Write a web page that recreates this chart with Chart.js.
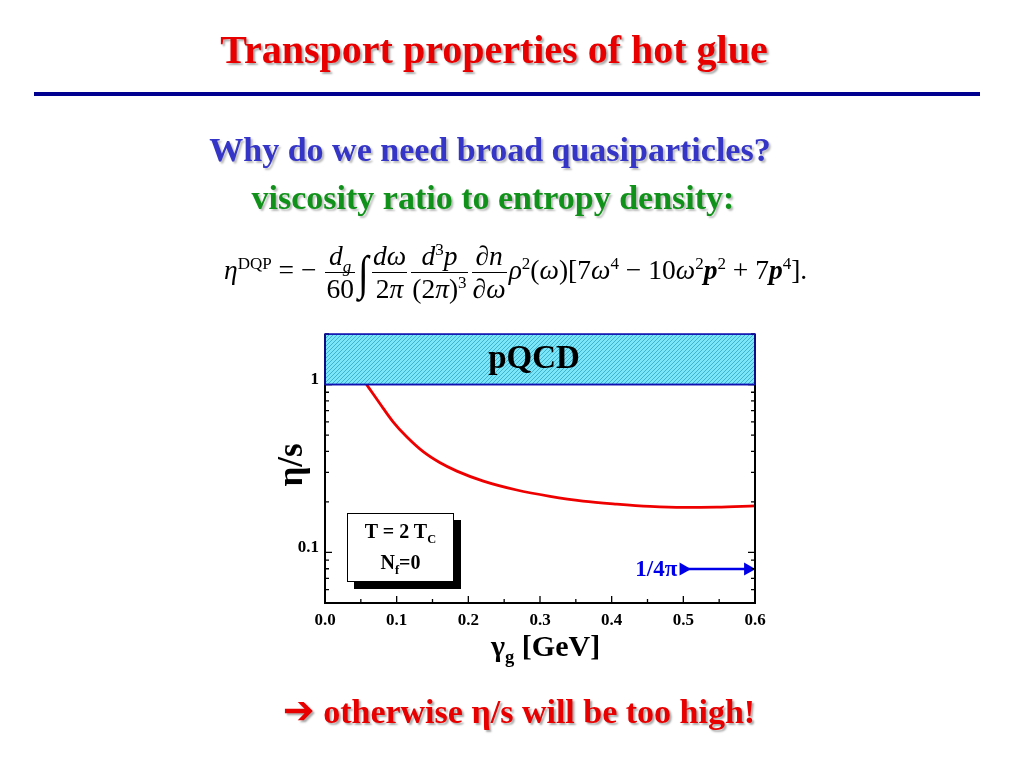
<!DOCTYPE html>
<html>
<head>
<meta charset="utf-8">
<script src="https://cdn.jsdelivr.net/npm/chart.js@4"></script>
<style>
  body { margin: 0; width: 1024px; height: 768px; background: #fff; position: relative; overflow: hidden;
         font-family: "Liberation Serif", "DejaVu Serif", serif; }
  #chart { position: absolute; left: 0; top: 0; }
  .line { position: absolute; width: 1024px; text-align: center; font-weight: bold; white-space: nowrap; line-height: 40px; }
  #title { top: 30px; left: -18px; font-size: 40px; color: #e80000; text-shadow: 2px 2px 2px #aaa; }
  #rule { position: absolute; left: 34px; top: 92px; width: 946px; height: 4px; background: #000090; }
  #why { top: 130px; left: -22px; font-size: 34px; color: #3535c8; text-shadow: 2px 2px 2px #bbb; }
  #visc { top: 178px; left: -19px; font-size: 34px; color: #10921a; text-shadow: 2px 2px 2px #bbb; }
  #formula { position: absolute; left: 224px; top: 240px; font-size: 27.5px; white-space: nowrap; line-height: 30px; }
  #formula i { font-style: italic; }
  .frac { display: inline-block; vertical-align: middle; text-align: center; margin: 0 2px; }
  .frac span { display: block; line-height: 32px; padding: 0 1px; }
  .frac .num { border-bottom: 1px solid #000; }
  .int { font-size: 48px; vertical-align: middle; display: inline-block; transform: scaleX(0.8); }
  sup, sub { font-size: 62%; line-height: 0; }
  #box { position: absolute; left: 347px; top: 513px; width: 107px; height: 69px; border: 1px solid #000; background: #fff;
         box-shadow: 7px 7px 0 #000; font-weight: bold; font-size: 20px; text-align: center; line-height: 31px; padding-top: 2px; box-sizing: border-box; }
  #ytitle { position: absolute; left: 261px; top: 445px; font-size: 35px; font-weight: bold; transform: rotate(-90deg); transform-origin: center; width: 60px; text-align: center; }
  #xtitle { position: absolute; left: 491px; top: 629px; font-size: 30px; font-weight: bold; }
  #bottom { top: 690px; left: 7px; font-size: 34px; color: #e80000; text-shadow: 2px 2px 2px #aaa; }
  #bottom .arr { font-family: "DejaVu Sans", sans-serif; font-size: 38px; }
</style>
</head>
<body>
<canvas id="chart" width="1024" height="768"></canvas>
<div id="title" class="line">Transport properties of hot glue</div>
<div id="rule"></div>
<div id="why" class="line">Why do we need broad quasiparticles?</div>
<div id="visc" class="line">viscosity ratio to entropy density:</div>
<div id="formula"><i>η</i><sup>DQP</sup> = − <span class="frac"><span class="num"><i>d<sub>g</sub></i></span><span>60</span></span><span class="int"><i>∫</i></span><span class="frac"><span class="num"><i>dω</i></span><span>2<i>π</i></span></span><span class="frac"><span class="num"><i>d</i><sup>3</sup><i>p</i></span><span>(2<i>π</i>)<sup>3</sup></span></span><span class="frac"><span class="num">∂<i>n</i></span><span>∂<i>ω</i></span></span><i>ρ</i><sup>2</sup>(<i>ω</i>)[7<i>ω</i><sup>4</sup> − 10<i>ω</i><sup>2</sup><b><i>p</i></b><sup>2</sup> + 7<b><i>p</i></b><sup>4</sup>].</div>
<div id="box">T = 2 T<sub>C</sub><br>N<sub>f</sub>=0</div>
<div id="ytitle">η/s</div>
<div id="xtitle">γ<sub>g</sub> [GeV]</div>
<div id="bottom" class="line"><span class="arr">➔</span> otherwise η/s will be too high!</div>
<script>
// data
const curveX = [0.058, 0.067, 0.081, 0.095, 0.114, 0.137, 0.160, 0.184, 0.221, 0.2675, 0.314, 0.36, 0.407, 0.4535, 0.5, 0.5465, 0.6];
const curveY = [1.0, 0.881, 0.724, 0.600, 0.488, 0.398, 0.343, 0.305, 0.266, 0.2355, 0.216, 0.2023, 0.194, 0.188, 0.1854, 0.1862, 0.1892];
const pqcdX = [0, 0.6];
const pqcdLow = [1, 1];
const pqcdHigh = [2, 2];
const kssX = [0.5, 0.59];
const kssY = [1 / (4 * Math.PI), 1 / (4 * Math.PI)];
const xTicks = [0, 0.1, 0.2, 0.3, 0.4, 0.5, 0.6];
const yTicks = [0.05, 0.06, 0.07, 0.08, 0.09, 0.1, 0.2, 0.3, 0.4, 0.5, 0.6, 0.7, 0.8, 0.9, 1, 2];
const yTickLabels = ['0.1', '1'];

const FONT = '"Liberation Serif", serif';

// hatched cyan fill for the pQCD band
function hatch() {
  const c = document.createElement('canvas');
  c.width = 4; c.height = 4;
  const g = c.getContext('2d');
  g.fillStyle = '#7ae6f7';
  g.fillRect(0, 0, 4, 4);
  g.strokeStyle = '#3fb2d2';
  g.lineWidth = 1;
  g.beginPath();
  g.moveTo(0, 4); g.lineTo(4, 0);
  g.moveTo(-1, 1); g.lineTo(1, -1);
  g.moveTo(3, 5); g.lineTo(5, 3);
  g.stroke();
  return g.createPattern(c, 'repeat');
}
const ctx0 = document.getElementById('chart').getContext('2d');

const frame = {
  id: 'frame',
  afterDatasetsDraw(chart) {
    const { ctx, chartArea: a, scales: { x, y } } = chart;
    ctx.save();
    // inward ticks
    ctx.strokeStyle = '#000';
    ctx.lineWidth = 1.3;
    ctx.beginPath();
    for (let v = 0; v <= 0.6001; v += 0.05) {
      const px = x.getPixelForValue(v);
      const len = Math.abs(v * 10 - Math.round(v * 10)) < 1e-6 ? 7 : 4;
      ctx.moveTo(px, a.bottom); ctx.lineTo(px, a.bottom - len);
    }
    yTicks.forEach(v => {
      const py = y.getPixelForValue(v);
      const len = (v === 0.1 || v === 1) ? 7 : 4;
      ctx.moveTo(a.left, py); ctx.lineTo(a.left + len, py);
      ctx.moveTo(a.right, py); ctx.lineTo(a.right - len, py);
    });
    ctx.stroke();
    // frame
    ctx.lineWidth = 2;
    ctx.beginPath();
    ctx.moveTo(a.left, a.top); ctx.lineTo(a.left, a.bottom); ctx.lineTo(a.right, a.bottom); ctx.lineTo(a.right, a.top);
    ctx.stroke();
    // band border
    const bx0 = x.getPixelForValue(pqcdX[0]), bx1 = x.getPixelForValue(pqcdX[1]);
    const by0 = y.getPixelForValue(pqcdHigh[0]), by1 = y.getPixelForValue(pqcdLow[0]);
    ctx.strokeStyle = '#1010b0';
    ctx.lineWidth = 1.5;
    ctx.strokeRect(bx0, by0, bx1 - bx0, by1 - by0);
    // labels
    ctx.fillStyle = '#000';
    ctx.font = 'bold 33px ' + FONT;
    ctx.textAlign = 'center';
    ctx.textBaseline = 'middle';
    ctx.fillText('pQCD', x.getPixelForValue(0.3) - 6, y.getPixelForValue(Math.SQRT2));
    ctx.fillStyle = '#0000e8';
    ctx.font = 'bold 23px ' + FONT;
    ctx.textAlign = 'right';
    ctx.fillText('1/4π', x.getPixelForValue(kssX[0]) - 6, y.getPixelForValue(kssY[0]) + 1);
    ctx.restore();
  }
};

new Chart(ctx0, {
  type: 'line',
  data: {
    datasets: [
      {
        data: pqcdX.map((v, i) => ({ x: v, y: pqcdLow[i] })),
        borderColor: '#1010b0', borderWidth: 1.5, pointRadius: 0, fill: false
      },
      {
        data: pqcdX.map((v, i) => ({ x: v, y: pqcdHigh[i] })),
        borderColor: '#1010b0', borderWidth: 1.5, pointRadius: 0,
        fill: '-1', backgroundColor: hatch()
      },
      {
        data: curveX.map((v, i) => ({ x: v, y: curveY[i] })),
        borderColor: '#ee0000', borderWidth: 2.8, pointRadius: 0,
        cubicInterpolationMode: 'monotone', fill: false
      },
      {
        data: kssX.map((v, i) => ({ x: v, y: kssY[i] })),
        borderColor: '#0000e8', backgroundColor: '#0000e8', borderWidth: 2.5,
        pointStyle: 'triangle', rotation: 90, pointRadius: 5, fill: false, clip: false
      }
    ]
  },
  options: {
    responsive: false,
    animation: false,
    layout: { padding: { left: 0, right: 269, top: 334, bottom: 0 } },
    plugins: { legend: { display: false }, tooltip: { enabled: false } },
    scales: {
      x: {
        type: 'linear', min: 0, max: 0.6,
        afterBuildTicks: s => { s.ticks = xTicks.map(v => ({ value: v })); },
        afterFit: s => { s.height = 165; },
        grid: { display: false, drawTicks: false },
        border: { display: false },
        ticks: {
          padding: 7, color: '#000', font: { family: FONT, size: 17, weight: 'bold' },
          callback: v => v.toFixed(1)
        }
      },
      y: {
        type: 'logarithmic', min: 0.05, max: 2,
        afterBuildTicks: s => { s.ticks = yTicks.map(v => ({ value: v })); },
        afterFit: s => { s.width = 325; },
        grid: { display: false, drawTicks: false },
        border: { display: false },
        ticks: {
          padding: 6, labelOffset: -5, color: '#000', autoSkip: false,
          font: { family: FONT, size: 17, weight: 'bold' },
          callback: v => (v === 0.1 ? yTickLabels[0] : v === 1 ? yTickLabels[1] : '')
        }
      }
    }
  },
  plugins: [frame]
});
</script>
</body>
</html>
